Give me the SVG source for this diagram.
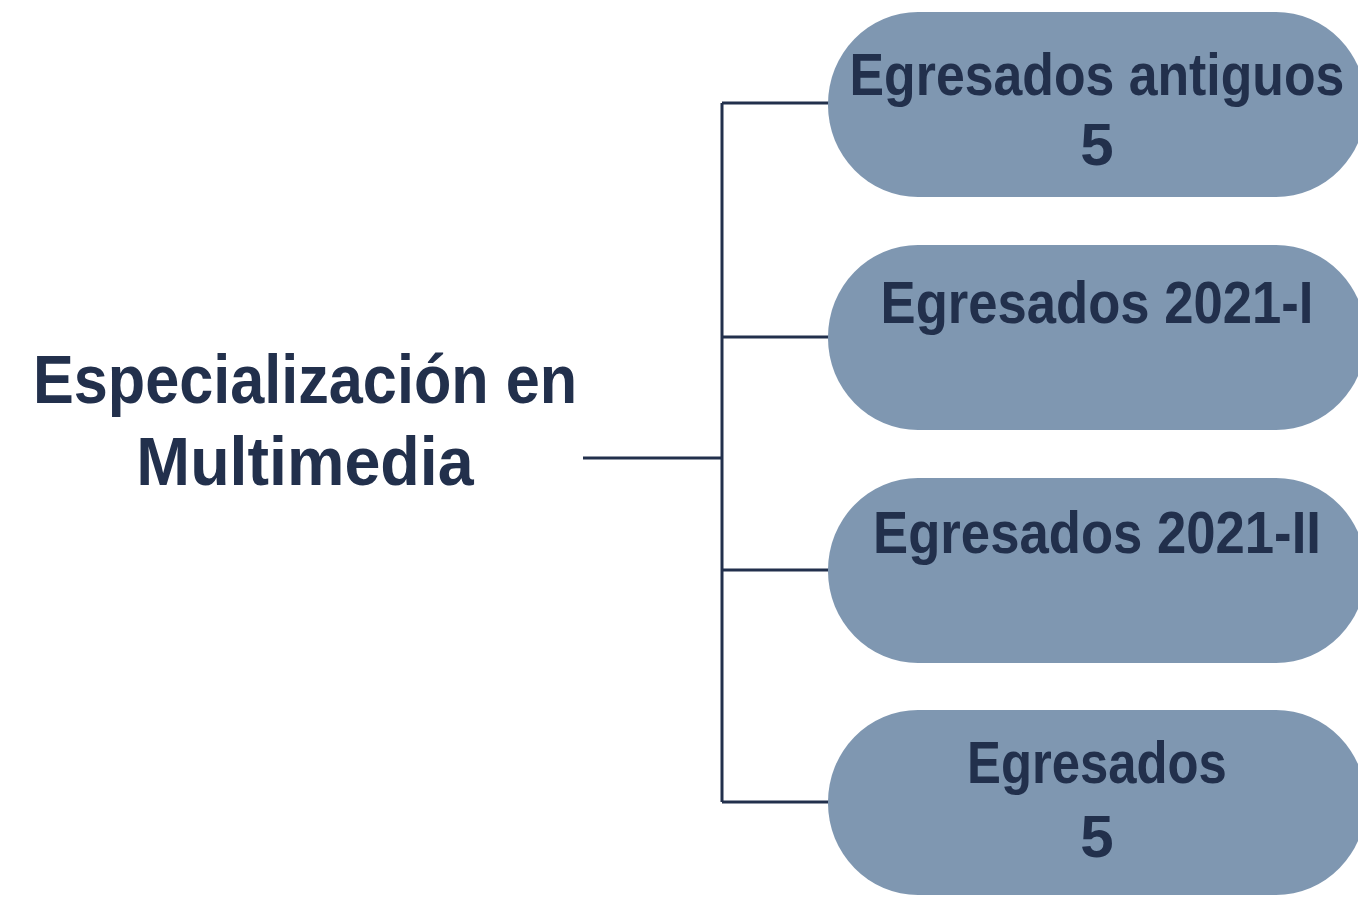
<svg xmlns="http://www.w3.org/2000/svg" width="1358" height="905" viewBox="0 0 1358 905">
<style>
.pill{fill:#7f97b1}
.t{font-family:"Liberation Sans",Arial,sans-serif;font-weight:bold;fill:#22304c;text-anchor:middle}
.n{font-size:60px}
.ttl{font-size:68px}
.c{stroke:#22304c;stroke-width:3;fill:none}
</style>
<rect width="1358" height="905" fill="#ffffff"/>
<g id="connectors">
<path class="c" d="M583 458H722M722 103V802M722 103H830M722 337H830M722 570H830M722 802H830"/>
</g>
<g id="root">
<text class="t ttl" transform="translate(305 403) scale(0.9 1)">Especialización en</text>
<text class="t ttl" transform="translate(305 485) scale(0.95 1)">Multimedia</text>
</g>
<g id="n1">
<rect class="pill" x="828" y="12" width="538" height="185" rx="90" ry="92"/>
<text class="t n" transform="translate(1097 95) scale(0.863 1)">Egresados antiguos</text>
<text class="t n" x="1097" y="165">5</text>
</g>
<g id="n2">
<rect class="pill" x="828" y="245" width="538" height="185" rx="90" ry="92"/>
<text class="t n" transform="translate(1097 323) scale(0.877 1)">Egresados 2021-I</text>
</g>
<g id="n3">
<rect class="pill" x="828" y="478" width="538" height="185" rx="90" ry="92"/>
<text class="t n" transform="translate(1097 553) scale(0.878 1)">Egresados 2021-II</text>
</g>
<g id="n4">
<rect class="pill" x="828" y="710" width="538" height="185" rx="90" ry="92"/>
<text class="t n" transform="translate(1097 783) scale(0.847 1)">Egresados</text>
<text class="t n" x="1097" y="857">5</text>
</g>
</svg>
